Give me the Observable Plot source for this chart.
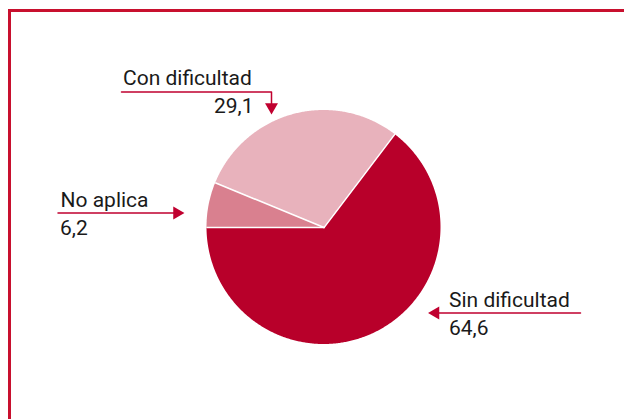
<!DOCTYPE html>
<html>
<head>
<meta charset="utf-8">
<script src="https://cdn.jsdelivr.net/npm/d3@7"></script>
<script src="https://cdn.jsdelivr.net/npm/@observablehq/plot@0.6"></script>
<style>
  html, body { margin: 0; padding: 0; background: #fff; overflow: hidden; }
  #wrap { position: relative; width: 624px; height: 419px; }
  #frame { position: absolute; left: 8px; top: 9px; width: 640px; height: 440px;
           border-left: 3px solid #C8102E; border-top: 3px solid #C8102E; pointer-events: none; }
</style>
</head>
<body>
<div id="wrap"><div id="frame"></div></div>
<script>
// ---- data ----
const categories = ["No aplica", "Con dificultad", "Sin dificultad"];
const values = [6.2, 29.1, 64.6];
const valueLabels = ["6,2", "29,1", "64,6"];
const sliceColors = ["#D9808F", "#E8B2BC", "#B8002A"];

// ---- layout (pixel coordinates) ----
const W = 624, H = 419;
const cx = 323.5, cy = 227, R = 117;
const fontSize = 21;
const lineColor = "#C0002F";
const textColor = "#1a1a1a";

// pie geometry from values
const pie = d3.pie().sort(null).startAngle(1.5 * Math.PI).endAngle(3.5 * Math.PI);
const arcs = pie(values);
const wedgePts = [];
arcs.forEach((a, i) => {
  const n = Math.max(2, Math.ceil((a.endAngle - a.startAngle) / (Math.PI / 360)));
  for (let k = 0; k <= n; k++) {
    const t = a.startAngle + (a.endAngle - a.startAngle) * k / n;
    wedgePts.push({cat: categories[i], x: cx + R * Math.sin(t), y: cy - R * Math.cos(t)});
  }
});
const radii = arcs.map(a => [
  {x: cx, y: cy},
  {x: cx + R * Math.sin(a.startAngle), y: cy - R * Math.cos(a.startAngle)}
]);

// annotation geometry
const leaders = [
  {cat: "Con dificultad", pts: [[121, 91.5], [271, 91.5], [271, 104]]},
  {cat: "No aplica", pts: [[57.5, 212.5], [176, 212.5]]},
  {cat: "Sin dificultad", pts: [[580, 312.5], [436, 312.5]]}
];
const leaderPts = leaders.flatMap(l => l.pts.map(([x, y]) => ({cat: l.cat, x, y})));
const heads = [
  {x: 271, y: 106.5, rotate: 180},
  {x: 176.5, y: 212.5, rotate: 90},
  {x: 435, y: 312.5, rotate: -90}
];
const mid = 0.32 * fontSize;
const labelPos = [
  {text: categories[1], x: 122.5, y: 84.7 - mid, anchor: "start"},
  {text: valueLabels[1], x: 253, y: 112.5 - mid, anchor: "end"},
  {text: categories[0], x: 60, y: 206 - mid, anchor: "start"},
  {text: valueLabels[0], x: 59.5, y: 234 - mid, anchor: "start"},
  {text: categories[2], x: 448.5, y: 306 - mid, anchor: "start"},
  {text: valueLabels[2], x: 448.5, y: 334 - mid, anchor: "start"}
];

const chart = Plot.plot({
  width: W, height: H,
  margin: 0,
  x: {domain: [0, W], range: [0, W], axis: null},
  y: {domain: [0, H], range: [0, H], axis: null},
  color: {domain: categories, range: sliceColors},
  style: {fontFamily: "Roboto, 'Liberation Sans', sans-serif", background: "transparent"},
  marks: [
    Plot.area(wedgePts, {x1: () => cx, y1: () => cy, x2: "x", y2: "y", z: "cat", fill: "cat", curve: "linear"}),
    ...radii.map(r => Plot.line(r, {x: "x", y: "y", stroke: "white", strokeWidth: 1.6})),
    Plot.line(leaderPts, {x: "x", y: "y", z: "cat", stroke: lineColor, strokeWidth: 1.5}),
    Plot.dot(heads, {x: "x", y: "y", rotate: "rotate", symbol: "triangle", r: 4.8, fill: lineColor, stroke: "none"}),
    ...labelPos.map(l => Plot.text([l], {x: "x", y: "y", text: "text", textAnchor: l.anchor, lineAnchor: "middle", fontSize, fill: textColor}))
  ]
});
document.getElementById("wrap").prepend(chart);
</script>
</body>
</html>
